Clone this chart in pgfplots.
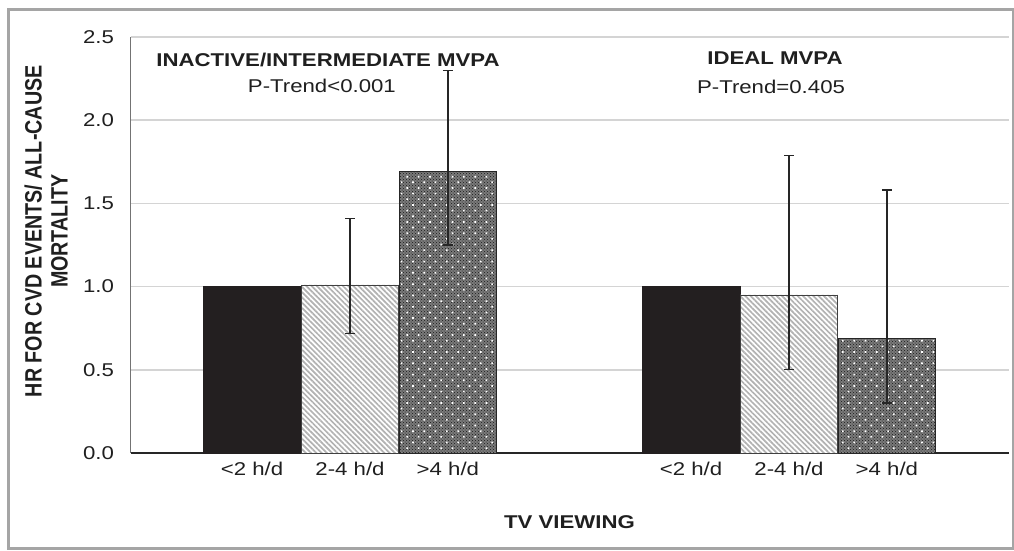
\documentclass[border=0pt]{standalone}
\usepackage{fontspec}
\setmainfont{Liberation Sans}[FakeStretch=1.2]
\newfontfamily\ylabfont{Liberation Sans}
\usepackage{pgfplots}
\pgfplotsset{compat=1.18}
\usetikzlibrary{patterns,patterns.meta}
\definecolor{barblack}{RGB}{35,31,32}
\definecolor{gridgray}{RGB}{212,212,212}
\definecolor{framegray}{RGB}{165,165,165}
\begin{document}
\begin{tikzpicture}
\path[use as bounding box] (0pt,0pt) rectangle (1014pt,550pt);
\draw[line width=3pt, color=framegray] (8pt,1.5pt) rectangle (1013pt,540pt);
\begin{axis}[
  at={(130.5pt,97pt)}, anchor=south west,
  scale only axis, width=878pt, height=416pt,
  xmin=0, xmax=2, ymin=0, ymax=2.5,
  axis x line*=bottom, axis y line*=left,
  x axis line style={-, line width=1.5pt, color=black!85},
  y axis line style={-, line width=1pt, color=black!55},
  ytick={0,0.5,1,1.5,2,2.5},
  ymajorgrids, grid style={line width=1.5pt, color=gridgray},
  major tick length=0pt,
  /pgf/number format/assume math mode=true,
  yticklabel style={/pgf/number format/fixed, /pgf/number format/precision=1,
    /pgf/number format/fixed zerofill, font=\fontsize{18.5}{20}\selectfont, xshift=-13pt, text=black!88},
  xtick={0.277,0.5,0.723,1.277,1.5,1.723},
  xticklabels={<2 h/d, 2-4 h/d, >4 h/d, <2 h/d, 2-4 h/d, >4 h/d},
  xticklabel style={font=\fontsize{18.5}{20}\selectfont, yshift=-6pt, text=black!88},
  xlabel={TV VIEWING},
  xlabel style={font=\bfseries\fontsize{18.5}{20}\selectfont, at={(axis description cs:0.5,-0.166)}, anchor=center, text=black!88},
  ylabel={\scalebox{1}[1.2]{\fontsize{19.7}{21.7}\selectfont\begin{tabular}{@{}c@{}}HR FOR CVD EVENTS/ ALL-CAUSE\\MORTALITY\end{tabular}}},
  ylabel style={align=center, font=\ylabfont\bfseries,
    at={(axis description cs:-0.0923,0.533)}, anchor=center, text=black!88},
  clip=false,
]
\addplot[ybar, bar width=0.2225, bar shift=0, fill=barblack, draw=barblack]
  coordinates {(0.277,1.00) (1.277,1.00)};
\addplot[ybar, bar width=0.2225, bar shift=0, fill=white, draw=black!75, line width=0.8pt,
  postaction={pattern color=black!30, pattern={Lines[angle=-45, distance=3.7pt, line width=1.7pt]}},
  error bars/.cd, y dir=both, y explicit,
  error bar style={line width=1.2pt, color=black!85},
  error mark options={rotate=90, mark size=5pt, line width=1.2pt, color=black!85}]
  coordinates {(0.5,1.01) += (0,0.40) -= (0,0.29)
               (1.5,0.95) += (0,0.84) -= (0,0.45)};
\addplot[ybar, bar width=0.2225, bar shift=0, fill=black!52, draw=black!85, line width=0.8pt,
  postaction={pattern color=black!90, pattern=crosshatch dots},
  postaction={pattern color=white, pattern={Dots[distance=8pt, radius=1.2pt, angle=45]}},
  error bars/.cd, y dir=both, y explicit,
  error bar style={line width=1.2pt, color=black!85},
  error mark options={rotate=90, mark size=5pt, line width=1.2pt, color=black!85}]
  coordinates {(0.723,1.69) += (0,0.61) -= (0,0.44)
               (1.723,0.69) += (0,0.89) -= (0,0.39)};
\node[font=\bfseries\fontsize{18.5}{20}\selectfont, text=black!88] at (axis cs:0.45,2.362) {INACTIVE/INTERMEDIATE MVPA};
\node[font=\fontsize{18.5}{20}\selectfont, text=black!88] at (axis cs:0.436,2.206) {P-Trend<0.001};
\node[font=\bfseries\fontsize{18.5}{20}\selectfont, text=black!88] at (axis cs:1.468,2.374) {IDEAL MVPA};
\node[font=\fontsize{18.5}{20}\selectfont, text=black!88] at (axis cs:1.459,2.200) {P-Trend=0.405};
\end{axis}
\end{tikzpicture}
\end{document}
